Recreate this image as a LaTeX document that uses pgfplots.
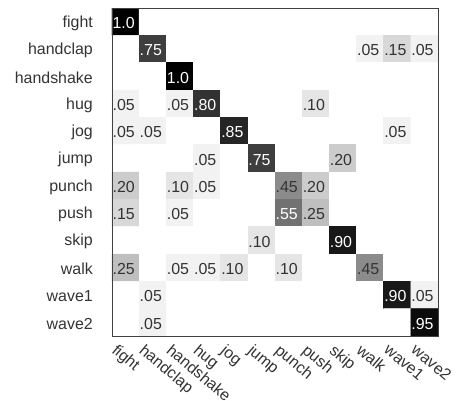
\documentclass[border=0pt]{standalone}
\usepackage{pgfplots}
\pgfplotsset{compat=1.18}
\usepackage{pgfplotstable}
\usepackage{fontspec}
\setmainfont{Liberation Sans}

% confusion matrix: x = predicted class, y = true class
\pgfplotstableread{
x y v
0 0 1.00
1 0 0
2 0 0
3 0 0
4 0 0
5 0 0
6 0 0
7 0 0
8 0 0
9 0 0
10 0 0
11 0 0
0 1 0
1 1 0.75
2 1 0
3 1 0
4 1 0
5 1 0
6 1 0
7 1 0
8 1 0
9 1 0.05
10 1 0.15
11 1 0.05
0 2 0
1 2 0
2 2 1.00
3 2 0
4 2 0
5 2 0
6 2 0
7 2 0
8 2 0
9 2 0
10 2 0
11 2 0
0 3 0.05
1 3 0
2 3 0.05
3 3 0.80
4 3 0
5 3 0
6 3 0
7 3 0.10
8 3 0
9 3 0
10 3 0
11 3 0
0 4 0.05
1 4 0.05
2 4 0
3 4 0
4 4 0.85
5 4 0
6 4 0
7 4 0
8 4 0
9 4 0
10 4 0.05
11 4 0
0 5 0
1 5 0
2 5 0
3 5 0.05
4 5 0
5 5 0.75
6 5 0
7 5 0
8 5 0.20
9 5 0
10 5 0
11 5 0
0 6 0.20
1 6 0
2 6 0.10
3 6 0.05
4 6 0
5 6 0
6 6 0.45
7 6 0.20
8 6 0
9 6 0
10 6 0
11 6 0
0 7 0.15
1 7 0
2 7 0.05
3 7 0
4 7 0
5 7 0
6 7 0.55
7 7 0.25
8 7 0
9 7 0
10 7 0
11 7 0
0 8 0
1 8 0
2 8 0
3 8 0
4 8 0
5 8 0.10
6 8 0
7 8 0
8 8 0.90
9 8 0
10 8 0
11 8 0
0 9 0.25
1 9 0
2 9 0.05
3 9 0.05
4 9 0.10
5 9 0
6 9 0.10
7 9 0
8 9 0
9 9 0.45
10 9 0
11 9 0
0 10 0
1 10 0.05
2 10 0
3 10 0
4 10 0
5 10 0
6 10 0
7 10 0
8 10 0
9 10 0
10 10 0.90
11 10 0.05
0 11 0
1 11 0.05
2 11 0
3 11 0
4 11 0
5 11 0
6 11 0
7 11 0
8 11 0
9 11 0
10 11 0
11 11 0.95
}\conf

% labels on light cells (dark text)
\pgfplotstableread{
x y lab
9 1 .05
10 1 .15
11 1 .05
0 3 .05
2 3 .05
7 3 .10
0 4 .05
1 4 .05
10 4 .05
3 5 .05
8 5 .20
0 6 .20
2 6 .10
3 6 .05
6 6 .45
7 6 .20
0 7 .15
2 7 .05
7 7 .25
5 8 .10
0 9 .25
2 9 .05
3 9 .05
4 9 .10
6 9 .10
9 9 .45
11 10 .05
1 10 .05
1 11 .05
}\lightlab

% labels on dark cells (white text)
\pgfplotstableread{
x y lab
0 0 1.0
1 1 .75
2 2 1.0
3 3 .80
4 4 .85
5 5 .75
6 7 .55
8 8 .90
10 10 .90
11 11 .95
}\darklab

\begin{document}
\begin{tikzpicture}
\path[use as bounding box] (-112bp,-65bp) rectangle (348bp,336bp);
\begin{axis}[
  at={(0,0)}, anchor=south west,
  width=326bp, height=328bp, scale only axis,
  xmin=-0.5, xmax=11.5, ymin=-0.5, ymax=11.5,
  y dir=reverse, enlargelimits=false,
  xtick={0,...,11}, ytick={0,...,11},
  xticklabels={fight,handclap,handshake,hug,jog,jump,punch,push,skip,walk,wave1,wave2},
  yticklabels={fight,handclap,handshake,hug,jog,jump,punch,push,skip,walk,wave1,wave2},
  major tick length=0pt,
  axis line style={black!75, line width=0.8bp},
  tick label style={font=\fontsize{16}{16}\selectfont, text=black!80},
  yticklabel style={anchor=east, inner sep=0pt, xshift=-19bp, yshift=-1.5bp},
  xticklabel style={inner sep=0pt, xshift=-7bp, yshift=-7bp, rotate=-40, anchor=north west},
  colormap={bw}{gray(0cm)=(1); gray(1cm)=(0)},
  point meta min=0, point meta max=1,
]
\addplot[matrix plot, mesh/cols=12, point meta=explicit] table[x=x, y=y, meta=v] {\conf};
\addplot[draw=none, mark=none, nodes near coords, point meta=explicit symbolic,
  nodes near coords style={anchor=west, xshift=-13.2bp, yshift=-1.5bp, inner sep=0pt,
    font=\fontsize{16}{16}\selectfont, text=black!80}]
  table[x=x, y=y, meta=lab] {\lightlab};
\addplot[draw=none, mark=none, nodes near coords, point meta=explicit symbolic,
  nodes near coords style={anchor=west, xshift=-13.2bp, yshift=-1.5bp, inner sep=0pt,
    font=\fontsize{16}{16}\selectfont, text=white}]
  table[x=x, y=y, meta=lab] {\darklab};
\end{axis}
\end{tikzpicture}
\end{document}
